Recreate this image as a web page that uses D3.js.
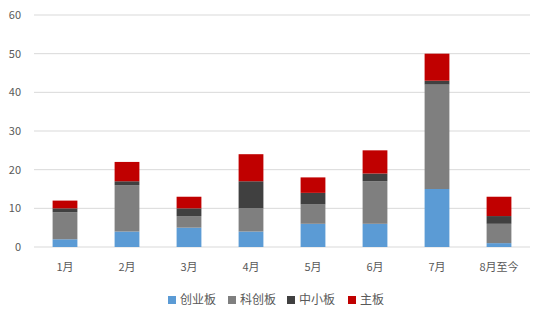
<!DOCTYPE html>
<html>
<head>
<meta charset="utf-8">
<script src="https://cdn.jsdelivr.net/npm/d3@7/dist/d3.min.js"></script>
<style>
  html, body { margin: 0; padding: 0; background: #fff; }
  svg { display: block; }
  .tick text { font-family: "Liberation Sans Narrow", "Noto Sans CJK SC", sans-serif; }
</style>
</head>
<body>
<svg id="chart" width="545" height="322"></svg>
<script>
// IPO counts by month and board
const months = ["1月", "2月", "3月", "4月", "5月", "6月", "7月", "8月至今"];
const seriesNames = ["创业板", "科创板", "中小板", "主板"];
const chinext = [2, 4, 5, 4, 6, 6, 15, 1];
const star = [7, 12, 3, 6, 5, 11, 27, 5];
const sme = [1, 1, 2, 7, 3, 2, 1, 2];
const mainBoard = [2, 5, 3, 7, 4, 6, 7, 5];
const yTicks = [0, 10, 20, 30, 40, 50, 60];
const colors = ["#5B9BD5", "#7F7F7F", "#404040", "#C00000"];

const svg = d3.select("#chart");
const margin = { left: 34, right: 15, top: 15, bottom: 75 };
const width = 545, height = 322;

const rows = months.map((m, i) => ({
  month: m,
  "创业板": chinext[i],
  "科创板": star[i],
  "中小板": sme[i],
  "主板": mainBoard[i]
}));
const stacked = d3.stack().keys(seriesNames)(rows);

const x = d3.scaleBand()
  .domain(months)
  .range([margin.left, width - margin.right])
  .paddingInner(0.6)
  .paddingOuter(0.3);

const y = d3.scaleLinear()
  .domain([0, 60])
  .range([height - margin.bottom, margin.top]);

// gridlines
svg.append("g")
  .selectAll("line")
  .data(yTicks)
  .join("line")
  .attr("x1", margin.left)
  .attr("x2", width - margin.right)
  .attr("y1", d => y(d))
  .attr("y2", d => y(d))
  .attr("stroke", "#D9D9D9")
  .attr("stroke-width", 1);

// y axis labels
const yAxis = svg.append("g")
  .attr("transform", `translate(${margin.left - 13},0)`)
  .call(d3.axisLeft(y).tickValues(yTicks).tickSize(0).tickPadding(0));
yAxis.select(".domain").remove();
yAxis.selectAll("text")
  .attr("fill", "#595959")
  .attr("font-size", "11px");

// stacked bars
svg.append("g")
  .selectAll("g")
  .data(stacked)
  .join("g")
  .attr("fill", (d, i) => colors[i])
  .selectAll("rect")
  .data(d => d)
  .join("rect")
  .attr("x", d => x(d.data.month))
  .attr("width", x.bandwidth())
  .attr("y", d => y(d[1]))
  .attr("height", d => y(d[0]) - y(d[1]));

// x axis labels
const xAxis = svg.append("g")
  .attr("transform", `translate(0,${height - margin.bottom + 16})`)
  .call(d3.axisBottom(x).tickSize(0).tickPadding(0));
xAxis.select(".domain").remove();
xAxis.selectAll("text")
  .attr("fill", "#595959")
  .attr("font-size", "11px")
  .attr("font-family", "Noto Sans CJK SC, sans-serif");

// legend
const legendX = [168, 228, 287, 348];
const legend = svg.append("g")
  .selectAll("g")
  .data(seriesNames)
  .join("g")
  .attr("transform", (d, i) => `translate(${legendX[i]},296)`);
legend.append("rect")
  .attr("width", 8)
  .attr("height", 8)
  .attr("fill", (d, i) => colors[i]);
legend.append("text")
  .attr("x", 12)
  .attr("y", 4)
  .attr("dy", "0.35em")
  .attr("font-size", "12px")
  .attr("font-family", "Noto Sans CJK SC, sans-serif")
  .attr("fill", "#595959")
  .text(d => d);
</script>
</body>
</html>
